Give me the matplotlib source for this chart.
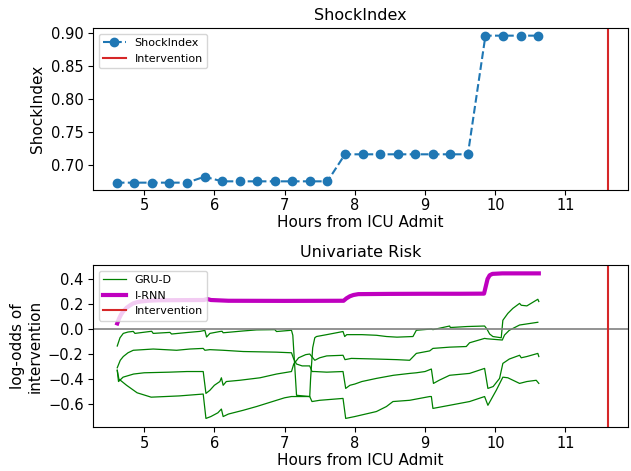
import matplotlib
matplotlib.use("Agg")
import matplotlib.pyplot as plt

# ---------------- data ----------------
shock_hours = [4.61, 4.86, 5.11, 5.36, 5.61, 5.86, 6.11, 6.36, 6.61, 6.86, 7.11, 7.36, 7.61,
               7.86, 8.11, 8.36, 8.61, 8.86, 9.11, 9.36, 9.61, 9.86, 10.11, 10.36, 10.61]
shock_values = [0.673, 0.673, 0.673, 0.673, 0.673, 0.682, 0.675, 0.675, 0.675, 0.675, 0.675, 0.675, 0.675,
                0.716, 0.716, 0.716, 0.716, 0.716, 0.716, 0.716, 0.716, 0.896, 0.896, 0.896, 0.896]
intervention_hour = 11.61

irnn_hours = [4.617, 4.64, 4.67, 4.70, 4.75, 4.80, 4.845, 4.90, 4.95, 5.05, 5.20, 5.50, 5.85, 5.90, 5.95, 6.2,
              7.0, 7.84, 7.88, 7.93, 7.98, 8.05, 8.5, 9.0, 9.5, 9.84, 9.86, 9.89, 9.92, 9.96, 10.1, 10.62]
irnn_values = [0.045, 0.08, 0.115, 0.14, 0.17, 0.19, 0.205, 0.215, 0.22, 0.226, 0.23, 0.231, 0.232, 0.24,
               0.232, 0.226, 0.225, 0.226, 0.245, 0.262, 0.272, 0.279, 0.281, 0.282, 0.282, 0.283, 0.33, 0.40,
               0.43, 0.441, 0.445, 0.445]

grud_a_hours = [4.617, 4.656, 4.703, 4.77, 4.845, 4.869, 5.107, 5.129, 5.367, 5.391, 5.61, 5.794, 5.865, 5.889,
                5.936, 6.078, 6.11, 6.125, 6.40, 6.60, 6.861, 6.885, 7.098, 7.117, 7.17, 7.358, 7.37, 7.40,
                7.43, 7.454, 7.60, 7.832, 7.856, 7.885, 8.10, 8.307, 8.45, 8.60, 8.828, 8.876, 9.09, 9.112,
                9.35, 9.36, 9.60, 9.848, 9.881, 9.92, 9.966, 10.085, 10.108, 10.179, 10.25, 10.346, 10.37,
                10.45, 10.606, 10.62]
grud_a_values = [-0.136, -0.07, -0.035, -0.024, -0.019, -0.035, -0.018, -0.035, -0.027, -0.04, -0.028, -0.019,
                 -0.011, -0.064, -0.035, -0.02, -0.018, -0.03, -0.016, -0.007, -0.005, -0.02, -0.01, -0.05, -0.53,
                 -0.54, -0.40, -0.15, -0.07, -0.06, -0.045, -0.02, -0.06, -0.045, -0.045, -0.05, -0.06, -0.065,
                 -0.06, -0.01, 0.0, -0.005, 0.024, 0.012, 0.02, 0.024, 0.0, -0.04, -0.06, -0.07, 0.07, 0.125,
                 0.165, 0.205, 0.19, 0.185, 0.238, 0.22]

grud_b_hours = [4.617, 4.66, 4.703, 4.77, 4.845, 5.129, 5.462, 5.651, 5.841, 5.865, 5.936, 6.125, 6.41, 6.885,
                7.098, 7.13, 7.17, 7.25, 7.358, 7.39, 7.43, 7.60, 7.832, 7.87, 7.93, 8.0, 8.1, 8.307, 8.55,
                8.781, 8.876, 9.0, 9.09, 9.12, 9.20, 9.35, 9.634, 9.848, 9.895, 9.97, 10.061, 10.108, 10.2,
                10.346, 10.37, 10.45, 10.606, 10.62]
grud_b_values = [-0.31, -0.25, -0.22, -0.19, -0.17, -0.16, -0.17, -0.16, -0.155, -0.17, -0.165, -0.17, -0.18,
                 -0.185, -0.19, -0.24, -0.28, -0.295, -0.295, -0.34, -0.34, -0.345, -0.34, -0.475, -0.45, -0.44,
                 -0.42, -0.395, -0.37, -0.355, -0.35, -0.34, -0.32, -0.435, -0.41, -0.37, -0.355, -0.315, -0.475,
                 -0.46, -0.395, -0.275, -0.24, -0.21, -0.23, -0.22, -0.195, -0.22]

grud_c_hours = [4.617, 4.635, 4.70, 4.85, 5.0, 5.36, 5.61, 5.841, 5.88, 5.936, 6.0, 6.078, 6.10, 6.125, 6.17,
                6.36, 6.65, 6.885, 7.098, 7.13, 7.2, 7.3, 7.358, 7.43, 7.5, 7.6, 7.832, 7.86, 7.95, 8.3,
                8.6, 8.781, 8.876, 9.066, 9.112, 9.35, 9.587, 9.634, 9.848, 9.88, 10.1, 10.132, 10.2, 10.346,
                10.606]
grud_c_values = [-0.33, -0.42, -0.385, -0.36, -0.35, -0.345, -0.34, -0.34, -0.515, -0.49, -0.45, -0.42, -0.39,
                 -0.45, -0.42, -0.41, -0.39, -0.36, -0.34, -0.28, -0.23, -0.205, -0.2, -0.25, -0.23, -0.215,
                 -0.21, -0.245, -0.235, -0.24, -0.245, -0.25, -0.195, -0.175, -0.155, -0.145, -0.14, -0.11,
                 -0.075, -0.078, -0.088, -0.048, -0.01, 0.032, 0.054]

grud_d_hours = [4.617, 4.64, 4.75, 4.9, 5.1, 5.5, 5.841, 5.88, 5.95, 6.05, 6.10, 6.125, 6.2, 6.41, 6.6,
                6.885, 7.0, 7.098, 7.358, 7.39, 7.5, 7.832, 7.87, 8.0, 8.307, 8.45, 8.543, 8.781, 8.876, 9.066,
                9.09, 9.112, 9.35, 9.634, 9.848, 9.895, 10.014, 10.108, 10.179, 10.346, 10.45, 10.583, 10.62]
grud_d_values = [-0.33, -0.40, -0.45, -0.51, -0.545, -0.535, -0.52, -0.715, -0.70, -0.67, -0.64, -0.70, -0.68,
                 -0.65, -0.62, -0.57, -0.55, -0.54, -0.54, -0.58, -0.57, -0.555, -0.715, -0.70, -0.66, -0.62,
                 -0.58, -0.57, -0.56, -0.54, -0.54, -0.635, -0.61, -0.58, -0.54, -0.61, -0.49, -0.385, -0.39,
                 -0.435, -0.42, -0.41, -0.435]

grud_series = [(grud_a_hours, grud_a_values), (grud_b_hours, grud_b_values),
               (grud_c_hours, grud_c_values), (grud_d_hours, grud_d_values)]

x_ticks = [5, 6, 7, 8, 9, 10, 11]
shock_ticks = [0.70, 0.75, 0.80, 0.85, 0.90]
risk_ticks = [-0.6, -0.4, -0.2, 0.0, 0.2, 0.4]

# ---------------- figure ----------------
W, H = 631, 471
fig = plt.figure(figsize=(W / 100, H / 100), dpi=100)

def box(l, t, r, b):
    return [l / W, 1 - b / H, (r - l) / W, (b - t) / H]

ax1 = fig.add_axes(box(93.3, 28.3, 628, 190))
ax2 = fig.add_axes(box(93.3, 265, 628, 427.3))

ax1.plot(shock_hours, shock_values, '--o', color='tab:blue', label='ShockIndex')
ax1.axvline(intervention_hour, color='tab:red', label='Intervention')
ax1.set_title('ShockIndex', fontsize=11.5)
ax1.set_ylabel('ShockIndex', fontsize=11)
ax1.set_xlabel('Hours from ICU Admit', fontsize=11, labelpad=1.5)
ax1.set_yticks(shock_ticks)
ax1.legend(loc='upper left', fontsize=8)

for i, (hh, vv) in enumerate(grud_series):
    ax2.plot(hh, vv, color='g', lw=0.9, label='GRU-D' if i == 0 else None)
ax2.plot(irnn_hours, irnn_values, color='m', lw=3, label='I-RNN')
ax2.axhline(0, color='gray', lw=1.2)
ax2.axvline(intervention_hour, color='tab:red', label='Intervention')
ax2.set_ylim(-0.786, 0.512)
ax2.set_yticks(risk_ticks)
ax2.set_title('Univariate Risk', fontsize=11.5)
ax2.set_ylabel('log-odds of\nintervention', fontsize=11)
ax2.set_xlabel('Hours from ICU Admit', fontsize=11, labelpad=1.5)
ax2.legend(loc='upper left', fontsize=8)

for ax in (ax1, ax2):
    ax.set_xticks(x_ticks)
    ax.set_xlim(4.276, 11.89)
    ax.tick_params(axis='x', labelsize=10.5, pad=2.5)
    ax.tick_params(axis='y', labelsize=10.5)

fig.savefig('out.png', dpi=100)
